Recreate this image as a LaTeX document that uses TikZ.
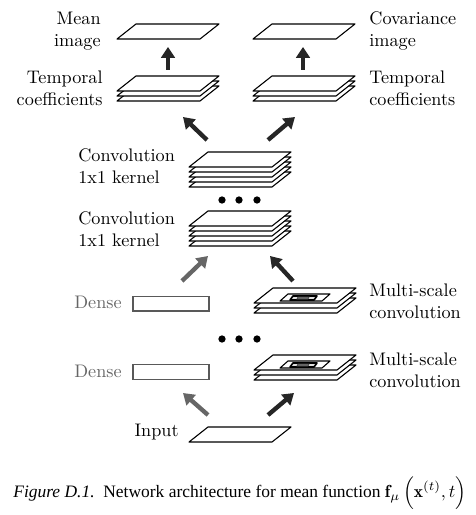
\documentclass[tikz,border=0pt]{standalone}
\usepackage{fontspec}
\newfontfamily\capfont{Liberation Serif}
\usetikzlibrary{arrows.meta, positioning, calc}

% one flat sheet, given its lower left corner
\newcommand{\sheet}[2]{\draw[sheet] (#1,#2) -- ++(83,0) -- ++(19,-15) -- ++(-83,0) -- cycle;}

\begin{document}
\begin{tikzpicture}[x=0.55pt, y=-0.55pt,
    sheet/.style={draw=black, fill=white, line width=0.6pt, line join=round},
    lbl/.style={inner sep=0pt, align=left},
    greylbl/.style={lbl, text=black!60},
    densebox/.style={draw=black!65, line width=0.6pt, minimum width=41.8pt, minimum height=8.2pt, inner sep=0pt},
    fat/.style={line width=2.4pt, -{Triangle[length=6pt, width=7.5pt]}},
    dark/.style={fat, black!85},
    grey/.style={fat, black!60},
    dot/.style={circle, fill=black, inner sep=0pt, minimum size=4pt}]
        \useasboundingbox (0,0) rectangle (475,515);

        % Output images
        \sheet{117}{39}
        \sheet{253}{39}
        \node[lbl, anchor=east, align=right] (meanlbl) at (101,31) {Mean\\image};
        \node[lbl, anchor=west] (covlbl) at (369,31) {Covariance\\image};

        % Temporal coefficients
        \foreach \i in {2,1,0} {
            \sheet{117}{91+5*\i}
            \sheet{253}{91+5*\i}
        }
        \node[lbl, anchor=east, align=right] (tcleft) at (103,88) {Temporal\\coefficients};
        \node[lbl, anchor=west] (tcright) at (369,88) {Temporal\\coefficients};

        % Convolution stacks
        \foreach \i in {4,3,...,0} {
            \sheet{189}{167+5*\i}
            \sheet{189}{226+5*\i}
        }
        \node[lbl, anchor=west] (conv1) at (78,166) {Convolution\\1x1 kernel};
        \node[lbl, anchor=west] (conv2) at (78,229) {Convolution\\1x1 kernel};

        % Dense layers
        \node[densebox] (dense1) at (171,303.5) {};
        \node[densebox] (dense2) at (171,372) {};
        \node[greylbl, anchor=east] (dlbl1) at (122,302) {Dense};
        \node[greylbl, anchor=east] (dlbl2) at (122,371) {Dense};

        % Multi-scale convolution stacks
        \foreach \y in {303,370} {
            \foreach \i in {2,1,0} {
                \sheet{254}{\y+5*\i}
            }
            \draw[sheet] (280,\y-2) -- ++(42,0) -- ++(8,-7) -- ++(-42,0) -- cycle;
            \draw[sheet, line width=0.9pt, fill=black!12] (290,\y-3) -- ++(24,0) -- ++(3,-4) -- ++(-24,0) -- cycle;
            \draw[fill=black!55, draw=black!70] (297,\y-4) -- ++(11,0) -- ++(1,-2) -- ++(-11,0) -- cycle;
        }
        \node[lbl, anchor=west] (ms1) at (369,301) {Multi-scale\\convolution};
        \node[lbl, anchor=west] (ms2) at (369,370) {Multi-scale\\convolution};

        % Input
        \sheet{189}{442}
        \node[lbl, anchor=east] (inlbl) at (179,432) {Input};

        % Dots
        \foreach \x [count=\n] in {222,239,257} {
            \node[dot] (top\n) at (\x,200) {};
            \node[dot] (bot\n) at (\x,339) {};
        }

        % Arrow ends
        \coordinate (a1) at (168,70);  \coordinate (b1) at (168,47);
        \coordinate (a2) at (303,70);  \coordinate (b2) at (303,47);
        \coordinate (a3) at (207,140); \coordinate (b3) at (183,117);
        \coordinate (a4) at (268,140); \coordinate (b4) at (295,117);
        \coordinate (a5) at (182,281); \coordinate (b5) at (208,256);
        \coordinate (a6) at (293,281); \coordinate (b6) at (270,256);
        \coordinate (a7) at (208,415); \coordinate (b7) at (183,393);
        \coordinate (a8) at (268,415); \coordinate (b8) at (294,393);

        % Arrows
        \draw[dark] (a1) -- (b1);
        \draw[dark] (a2) -- (b2);
        \draw[dark] (a3) -- (b3);
        \draw[dark] (a4) -- (b4);
        \draw[grey] (a5) -- (b5);
        \draw[dark] (a6) -- (b6);
        \draw[grey] (a7) -- (b7);
        \draw[dark] (a8) -- (b8);

        % Caption
        \node[anchor=west, inner sep=0pt, font=\capfont\fontsize{9.6}{11}\selectfont] (cap) at (13,493)
            {\textit{Figure D.1.}\ \ Network architecture for mean function $\mathbf{f}_{\mu}\,\Bigl(\mathbf{x}^{(t)},t\Bigr)$};
\end{tikzpicture}
\end{document}
